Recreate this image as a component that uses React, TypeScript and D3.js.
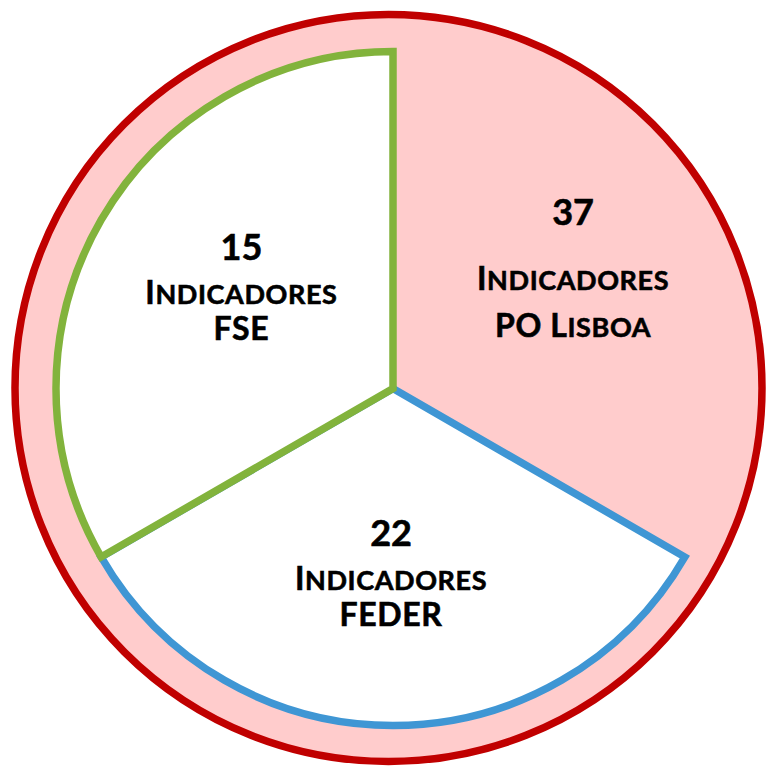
import React from "react";
import * as d3 from "d3";

// ---- data ----
const categories = ["PO Lisboa", "FEDER", "FSE"];
const counts = [37, 22, 15];
const sectorShare = [1, 1, 1]; // the three sectors are drawn as equal thirds
const lineWord = "Indicadores";
const seriesColors = ["#C00000", "#3F96D4", "#82B33C"];

const W = 767;
const H = 768;
const FONT = "Lato, 'Open Sans', sans-serif";

function SmallCaps({ text, x, y, big, small, spacing }: { text: string; x: number; y: number; big: number; small: number; spacing: number }) {
  const words = text.split(" ");
  return (
    <text
      x={x}
      y={y}
      textAnchor="middle"
      fontFamily={FONT}
      fontWeight={700}
      fill="#000"
      stroke="#000"
      strokeWidth={0.6}
      letterSpacing={spacing}
    >
      {words.map((w, i) => {
        const first = w.charAt(0).toUpperCase();
        const rest = w.slice(1);
        const restIsLower = rest === rest.toLowerCase() && rest !== rest.toUpperCase();
        return (
          <React.Fragment key={i}>
            <tspan fontSize={big}>{(i > 0 ? " " : "") + first}</tspan>
            <tspan fontSize={restIsLower ? small : big}>{rest.toUpperCase()}</tspan>
          </React.Fragment>
        );
      })}
    </text>
  );
}

export default function App() {
  const outerCx = 388.5;
  const outerCy = 388;
  const outerR = 373.5;
  const cx = 393;
  const cy = 388.5;
  const wedgeR = 337;

  const pie = d3.pie<number>().value((d) => d).sort(null);
  const arcs = pie(sectorShare);
  const wedge = d3.arc<d3.PieArcDatum<number>>().innerRadius(0).outerRadius(wedgeR);

  const labelR = [216, 184, 182];
  const nudge = [
    [-7, -12],
    [-2, 1],
    [6, -10],
  ];
  const labelArc = (i: number) =>
    d3.arc<d3.PieArcDatum<number>>().innerRadius(labelR[i]).outerRadius(labelR[i]).centroid(arcs[i]);

  const wedgeOrder = [1, 2];

  return (
    <svg width={W} height={H} style={{ position: "absolute", left: 0, top: 0, overflow: "hidden" }}>
      <rect width={W} height={H} fill="#fff" />
      <circle cx={outerCx} cy={outerCy} r={outerR} fill="#FFCCCC" stroke={seriesColors[0]} strokeWidth={7.5} />
      <g transform={`translate(${cx},${cy})`}>
        {wedgeOrder.map((i) => (
          <path
            key={categories[i]}
            d={wedge(arcs[i]) || ""}
            fill="#fff"
            stroke={seriesColors[i]}
            strokeWidth={7.5}
            strokeLinejoin="miter"
            strokeMiterlimit={10}
          />
        ))}
        {arcs.map((a, i) => {
          const c = labelArc(i);
          const lx = c[0] + nudge[i][0];
          const ly = c[1] + nudge[i][1];
          const isPO = i === 0;
          const gap1 = isPO ? 65 : 44;
          const gap2 = isPO ? 47 : 36;
          const top = ly - (gap1 + gap2 + 25) / 2 + 25;
          return (
            <g key={categories[i]}>
              <text
                x={lx}
                y={top}
                textAnchor="middle"
                fontFamily={FONT}
                fontWeight={700}
                fontSize={36}
                fill="#000"
                stroke="#000"
                strokeWidth={0.6}
              >
                {counts[i]}
              </text>
              <SmallCaps text={lineWord} x={lx} y={top + gap1} big={32} small={27} spacing={0.6} />
              <SmallCaps text={categories[i]} x={lx} y={top + gap1 + gap2} big={32} small={27} spacing={0.6} />
            </g>
          );
        })}
      </g>
    </svg>
  );
}
